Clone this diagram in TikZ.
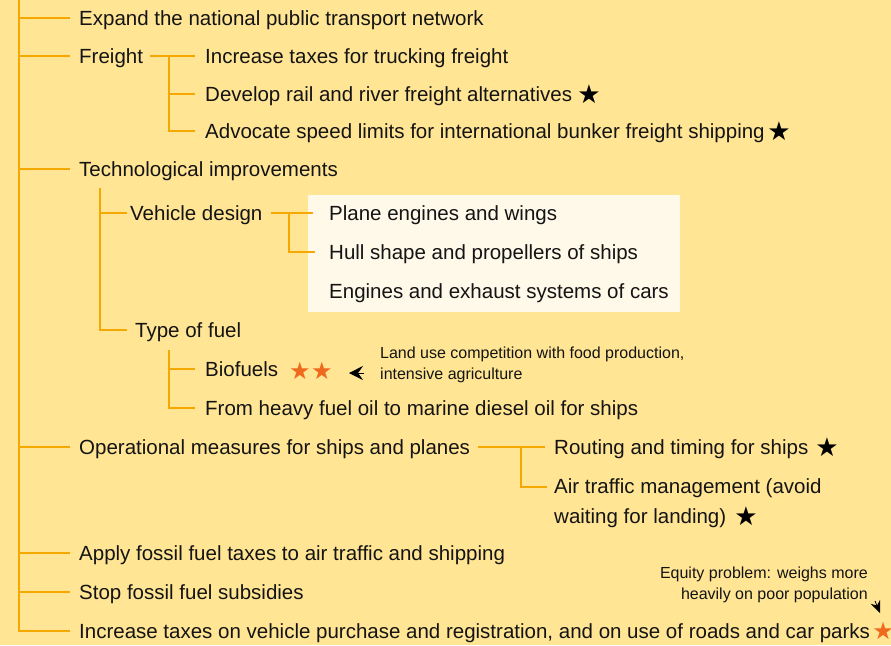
\documentclass[tikz,border=0pt]{standalone}
\usepackage{fontspec}
\setmainfont{Liberation Sans}
\newfontfamily\symfont{DejaVu Sans}
\usetikzlibrary{arrows.meta}
\definecolor{bg}{HTML}{FFE594}
\definecolor{boxbg}{HTML}{FFF9EA}
\definecolor{ln}{HTML}{F5A800}
\definecolor{ostar}{HTML}{F06A1E}
\definecolor{txt}{HTML}{141414}
\tikzset{
  x=1pt, y=-1pt,
  conn/.style={draw=ln, line width=2pt},
  lbl/.style={anchor=west, inner sep=0pt, text height=14.8pt, text depth=0pt,
              font=\fontsize{20.5}{30}\selectfont, text=txt},
  lbl2/.style={anchor=north west, inner sep=0pt, align=left,
              font=\fontsize{20.5}{30}\selectfont, text=txt},
  note/.style={inner sep=0pt, font=\fontsize{16}{21}\selectfont, text=txt},
  bstar/.style={inner sep=0pt, font=\symfont\fontsize{26}{26}\selectfont, text=black},
  ostarn/.style={inner sep=0pt, font=\symfont\fontsize{24}{24}\selectfont, text=ostar},
  tip/.style={-{Stealth[length=14pt,width=14pt,inset=5pt]}, line width=0.8pt, black},
  tipb/.style={-{Stealth[length=12pt,width=10pt,inset=4pt]}, line width=0.8pt, black},
}
\begin{document}
\begin{tikzpicture}
\fill[bg] (0,0) rectangle (891,645);
\useasboundingbox (0,0) rectangle (891,645);
\fill[boxbg] (308,195) rectangle (680,312);

% level 1
\node[lbl] (n1) at (79,18) {Expand the national public transport network};
\node[lbl] (n2) at (79,56) {Freight};
\node[lbl] (n3) at (79,169) {Technological improvements};
\node[lbl] (n4) at (79,447) {Operational measures for ships and planes};
\node[lbl] (n5) at (79,553) {Apply fossil fuel taxes to air traffic and shipping};
\node[lbl] (n6) at (79,592) {Stop fossil fuel subsidies};
\node[lbl] (n7) at (79,631) {Increase taxes on vehicle purchase and registration, and on use of roads and car parks};

% freight
\node[lbl] (f1) at (205,56) {Increase taxes for trucking freight};
\node[lbl] (f2) at (205,94) {Develop rail and river freight alternatives};
\node[lbl] (f3) at (205,131) {Advocate speed limits for international bunker freight shipping};

% technological
\node[lbl] (v) at (130,213) {Vehicle design};
\node[lbl] (ty) at (135,330) {Type of fuel};
\node[lbl] (p1) at (329,213) {Plane engines and wings};
\node[lbl] (p2) at (329,252) {Hull shape and propellers of ships};
\node[lbl] (p3) at (329,291) {Engines and exhaust systems of cars};
\node[lbl] (b1) at (205,369) {Biofuels};
\node[lbl] (b2) at (205,408) {From heavy fuel oil to marine diesel oil for ships};

% operational
\node[lbl] (o1) at (554,447) {Routing and timing for ships};
\node[lbl2] (o2) at (554,478) {Air traffic management (avoid\\waiting for landing)};

% notes
\node[note, anchor=north west, align=left] (nt) at (380,347) {Land use competition with food production,\\intensive agriculture};
\node[note, anchor=north east, align=right] (eq) at (868,567) {Equity problem: weighs more\\heavily on poor population};

% stars
\node[bstar] (s1) at (589,94) {★};
\node[bstar] (s2) at (779,131) {★};
\node[ostarn] (s3) at (300,371) {★};
\node[ostarn] (s4) at (322,371) {★};
\node[bstar] (s5) at (827,447) {★};
\node[bstar] (s6) at (746,516) {★};
\node[ostarn] (s7) at (883,631) {★};

% coordinates
\coordinate (top) at (19,0);
\coordinate (fj) at (169,56);
\coordinate (tj) at (100,188);
\coordinate (vj) at (289,213);
\coordinate (yj) at (169,350);
\coordinate (oj) at (521,447);
\coordinate (bt) at (349,373);
\coordinate (et) at (880,613);
\coordinate (es) at (875,601);

% spine
\draw[conn] (top) |- ([xshift=-9pt]n7.west);
\foreach \n in {n1,n2,n3,n4,n5,n6}
  \draw[conn] (top |- \n.west) -- ([xshift=-9pt]\n.west);

% freight connectors
\draw[conn] ([xshift=7pt]n2.east) -- ([xshift=-10pt]f1.west);
\draw[conn] (fj) |- ([xshift=-10pt]f2.west);
\draw[conn] (fj) |- ([xshift=-10pt]f3.west);

% technological connectors
\draw[conn] (tj) |- ([xshift=-3pt]v.west);
\draw[conn] (tj) |- ([xshift=-8pt]ty.west);
\draw[conn] ([xshift=8pt]v.east) -- ([xshift=-16pt]p1.west);
\draw[conn] (vj) |- ([xshift=-14pt]p2.west);
\draw[conn] (yj) |- ([xshift=-10pt]b1.west);
\draw[conn] (yj) |- ([xshift=-10pt]b2.west);

% operational connectors
\draw[conn] ([xshift=8pt]n4.east) -- ([xshift=-9pt]o1.west);
\draw[conn] (oj) |- ([xshift=-7pt,yshift=-9pt]o2.north west);

% note arrows
\draw[tip, shorten <=16pt] (nt.west |- bt) -- (bt);
\draw[tipb] (es) -- (et);
\end{tikzpicture}
\end{document}
